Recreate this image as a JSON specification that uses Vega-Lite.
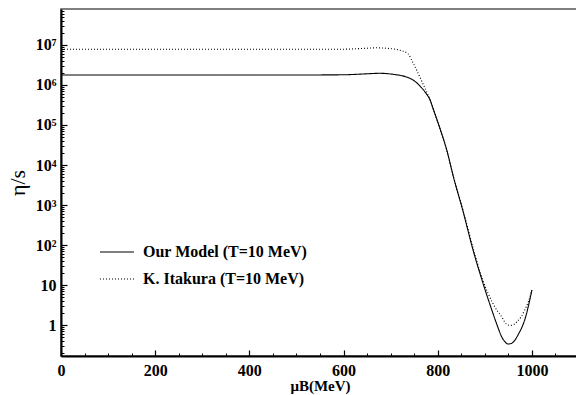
{
  "$schema": "https://vega.github.io/schema/vega-lite/v6.json",
  "width": 518,
  "height": 347,
  "autosize": "none",
  "padding": {"left": 61, "top": 9, "right": 0, "bottom": 39},
  "background": "white",
  "config": {
    "view": {"stroke": "#555555", "strokeWidth": 1.5},
    "font": "Liberation Serif"
  },
  "data": {
    "values": [
      {"mu": 0, "eta": 1.78e6, "model": "Our Model (T=10 MeV)"},
      {"mu": 100, "eta": 1.78e6, "model": "Our Model (T=10 MeV)"},
      {"mu": 200, "eta": 1.78e6, "model": "Our Model (T=10 MeV)"},
      {"mu": 300, "eta": 1.78e6, "model": "Our Model (T=10 MeV)"},
      {"mu": 400, "eta": 1.78e6, "model": "Our Model (T=10 MeV)"},
      {"mu": 500, "eta": 1.78e6, "model": "Our Model (T=10 MeV)"},
      {"mu": 600, "eta": 1.8e6, "model": "Our Model (T=10 MeV)"},
      {"mu": 640, "eta": 1.88e6, "model": "Our Model (T=10 MeV)"},
      {"mu": 677, "eta": 1.96e6, "model": "Our Model (T=10 MeV)"},
      {"mu": 705, "eta": 1.85e6, "model": "Our Model (T=10 MeV)"},
      {"mu": 734, "eta": 1.58e6, "model": "Our Model (T=10 MeV)"},
      {"mu": 747, "eta": 1.35e6, "model": "Our Model (T=10 MeV)"},
      {"mu": 762, "eta": 9.5e5, "model": "Our Model (T=10 MeV)"},
      {"mu": 776, "eta": 6.0e5, "model": "Our Model (T=10 MeV)"},
      {"mu": 783, "eta": 4.4e5, "model": "Our Model (T=10 MeV)"},
      {"mu": 790, "eta": 2.6e5, "model": "Our Model (T=10 MeV)"},
      {"mu": 805, "eta": 8.0e4, "model": "Our Model (T=10 MeV)"},
      {"mu": 819, "eta": 2.4e4, "model": "Our Model (T=10 MeV)"},
      {"mu": 834, "eta": 4.7e3, "model": "Our Model (T=10 MeV)"},
      {"mu": 853, "eta": 750, "model": "Our Model (T=10 MeV)"},
      {"mu": 875, "eta": 75, "model": "Our Model (T=10 MeV)"},
      {"mu": 896, "eta": 11.2, "model": "Our Model (T=10 MeV)"},
      {"mu": 917, "eta": 2.0, "model": "Our Model (T=10 MeV)"},
      {"mu": 926, "eta": 1.0, "model": "Our Model (T=10 MeV)"},
      {"mu": 936, "eta": 0.5, "model": "Our Model (T=10 MeV)"},
      {"mu": 942, "eta": 0.39, "model": "Our Model (T=10 MeV)"},
      {"mu": 949, "eta": 0.335, "model": "Our Model (T=10 MeV)"},
      {"mu": 956, "eta": 0.345, "model": "Our Model (T=10 MeV)"},
      {"mu": 964, "eta": 0.42, "model": "Our Model (T=10 MeV)"},
      {"mu": 971, "eta": 0.58, "model": "Our Model (T=10 MeV)"},
      {"mu": 979, "eta": 0.89, "model": "Our Model (T=10 MeV)"},
      {"mu": 986, "eta": 1.5, "model": "Our Model (T=10 MeV)"},
      {"mu": 992, "eta": 2.8, "model": "Our Model (T=10 MeV)"},
      {"mu": 996, "eta": 4.5, "model": "Our Model (T=10 MeV)"},
      {"mu": 1000, "eta": 7.5, "model": "Our Model (T=10 MeV)"},
      {"mu": 0, "eta": 7.8e6, "model": "K. Itakura (T=10 MeV)"},
      {"mu": 100, "eta": 7.8e6, "model": "K. Itakura (T=10 MeV)"},
      {"mu": 200, "eta": 7.8e6, "model": "K. Itakura (T=10 MeV)"},
      {"mu": 300, "eta": 7.8e6, "model": "K. Itakura (T=10 MeV)"},
      {"mu": 400, "eta": 7.8e6, "model": "K. Itakura (T=10 MeV)"},
      {"mu": 500, "eta": 7.8e6, "model": "K. Itakura (T=10 MeV)"},
      {"mu": 600, "eta": 7.85e6, "model": "K. Itakura (T=10 MeV)"},
      {"mu": 640, "eta": 8.2e6, "model": "K. Itakura (T=10 MeV)"},
      {"mu": 670, "eta": 8.5e6, "model": "K. Itakura (T=10 MeV)"},
      {"mu": 700, "eta": 8.1e6, "model": "K. Itakura (T=10 MeV)"},
      {"mu": 720, "eta": 7.4e6, "model": "K. Itakura (T=10 MeV)"},
      {"mu": 737, "eta": 6.0e6, "model": "K. Itakura (T=10 MeV)"},
      {"mu": 747, "eta": 3.7e6, "model": "K. Itakura (T=10 MeV)"},
      {"mu": 758, "eta": 2.0e6, "model": "K. Itakura (T=10 MeV)"},
      {"mu": 769, "eta": 1.05e6, "model": "K. Itakura (T=10 MeV)"},
      {"mu": 779, "eta": 5.8e5, "model": "K. Itakura (T=10 MeV)"},
      {"mu": 785, "eta": 4.0e5, "model": "K. Itakura (T=10 MeV)"},
      {"mu": 790, "eta": 2.6e5, "model": "K. Itakura (T=10 MeV)"},
      {"mu": 805, "eta": 8.0e4, "model": "K. Itakura (T=10 MeV)"},
      {"mu": 819, "eta": 2.4e4, "model": "K. Itakura (T=10 MeV)"},
      {"mu": 834, "eta": 4.8e3, "model": "K. Itakura (T=10 MeV)"},
      {"mu": 853, "eta": 800, "model": "K. Itakura (T=10 MeV)"},
      {"mu": 875, "eta": 85, "model": "K. Itakura (T=10 MeV)"},
      {"mu": 896, "eta": 13, "model": "K. Itakura (T=10 MeV)"},
      {"mu": 917, "eta": 3.5, "model": "K. Itakura (T=10 MeV)"},
      {"mu": 926, "eta": 2.3, "model": "K. Itakura (T=10 MeV)"},
      {"mu": 936, "eta": 1.6, "model": "K. Itakura (T=10 MeV)"},
      {"mu": 942, "eta": 1.2, "model": "K. Itakura (T=10 MeV)"},
      {"mu": 949, "eta": 1.0, "model": "K. Itakura (T=10 MeV)"},
      {"mu": 956, "eta": 0.98, "model": "K. Itakura (T=10 MeV)"},
      {"mu": 968, "eta": 1.19, "model": "K. Itakura (T=10 MeV)"},
      {"mu": 977, "eta": 1.6, "model": "K. Itakura (T=10 MeV)"},
      {"mu": 985, "eta": 2.4, "model": "K. Itakura (T=10 MeV)"},
      {"mu": 993, "eta": 4.0, "model": "K. Itakura (T=10 MeV)"},
      {"mu": 1000, "eta": 7.5, "model": "K. Itakura (T=10 MeV)"}
    ]
  },
  "layer": [
    {
      "mark": {"type": "line", "color": "black", "strokeWidth": 1.1, "clip": true, "interpolate": "monotone"},
      "encoding": {
        "x": {
          "field": "mu", "type": "quantitative",
          "scale": {"domain": [0, 1100], "nice": false, "zero": false},
          "axis": {
            "values": [0, 200, 400, 600, 800, 1000],
            "format": "d",
            "grid": false,
            "domainColor": "black", "domainWidth": 2,
            "tickColor": "black", "tickWidth": 1.2, "tickSize": -6,
            "labelFont": "Liberation Serif", "labelFontWeight": "bold", "labelFontSize": 16, "labelColor": "black",
            "labelPadding": 12, "labelFlush": false, "labelOverlap": false,
            "title": "μB(MeV)",
            "titleFont": "Liberation Serif", "titleFontWeight": "bold", "titleFontSize": 15, "titleColor": "black",
            "titlePadding": 0
          }
        },
        "y": {
          "field": "eta", "type": "quantitative",
          "scale": {"type": "log", "domain": [0.168, 7.94e7], "nice": false},
          "axis": {
            "values": [1, 10, 100, 1000, 10000, 100000, 1000000, 10000000],
            "labelExpr": "datum.value < 50 ? format(datum.value, 'd') : '10' + ['', '', '²', '³', '⁴', '⁵', '⁶', '⁷'][round(log(datum.value) / LN10)]",
            "grid": false,
            "domainColor": "black", "domainWidth": 2,
            "tickColor": "black", "tickWidth": 1.2, "tickSize": -6,
            "labelFont": "Liberation Serif", "labelFontWeight": "bold", "labelFontSize": 16, "labelColor": "black",
            "labelPadding": 11, "labelFlush": false, "labelOverlap": false,
            "title": "η/s",
            "titleFont": "Liberation Serif", "titleFontWeight": "normal", "titleFontSize": 22, "titleColor": "black",
            "titlePadding": 6
          }
        },
        "strokeDash": {
          "field": "model", "type": "nominal",
          "scale": {"domain": ["Our Model (T=10 MeV)", "K. Itakura (T=10 MeV)"], "range": [[1, 0], [1, 2]]},
          "legend": {
            "orient": "none", "legendX": 38, "legendY": 225,
            "title": null,
            "symbolType": "stroke", "symbolSize": 1156, "symbolStrokeColor": "black", "symbolStrokeWidth": 1.1,
            "labelFont": "Liberation Serif", "labelFontWeight": "bold", "labelFontSize": 16, "labelColor": "black",
            "labelLimit": 0,
            "labelOffset": 8, "rowPadding": 1, "padding": 0
          }
        }
      }
    },
    {
      "mark": {"type": "line", "opacity": 0},
      "encoding": {
        "x": {
          "field": "mu", "type": "quantitative",
          "axis": {
            "orient": "bottom",
            "values": [50, 100, 150, 250, 300, 350, 450, 500, 550, 650, 700, 750, 850, 900, 950, 1050],
            "grid": false, "labels": false, "domain": false, "title": null,
            "tickColor": "black", "tickWidth": 1, "tickSize": -3
          }
        },
        "y": {
          "field": "eta", "type": "quantitative",
          "axis": {
            "orient": "left",
            "values": [0.2, 0.3, 0.4, 0.5, 0.6, 0.7, 0.8, 0.9, 2, 3, 4, 5, 6, 7, 8, 9, 20, 30, 40, 50, 60, 70, 80, 90, 200, 300, 400, 500, 600, 700, 800, 900, 2000, 3000, 4000, 5000, 6000, 7000, 8000, 9000, 20000, 30000, 40000, 50000, 60000, 70000, 80000, 90000, 200000, 300000, 400000, 500000, 600000, 700000, 800000, 900000, 2000000, 3000000, 4000000, 5000000, 6000000, 7000000, 8000000, 9000000, 20000000, 30000000, 40000000, 50000000, 60000000, 70000000],
            "grid": false, "labels": false, "domain": false, "title": null,
            "tickColor": "black", "tickWidth": 1, "tickSize": -3
          }
        }
      }
    }
  ],
  "resolve": {"axis": {"x": "independent", "y": "independent"}}
}
